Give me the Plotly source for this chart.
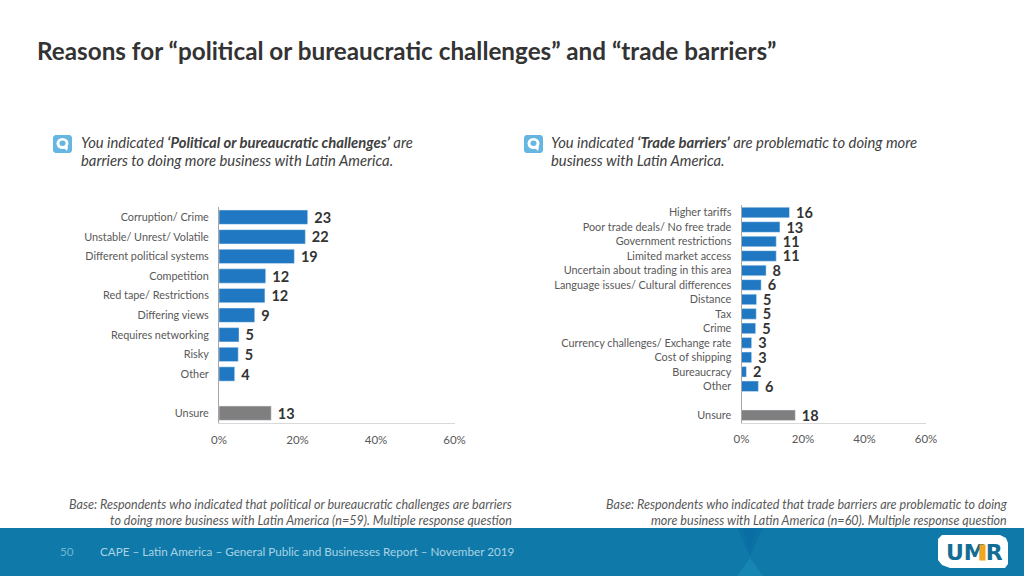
import plotly.graph_objects as go

W, H = 1024, 576

left_labels = ['Corruption/ Crime', 'Unstable/ Unrest/ Volatile', 'Different political systems',
               'Competition', 'Red tape/ Restrictions', 'Differing views', 'Requires networking',
               'Risky', 'Other', ' ', 'Unsure']
left_values = [22.6, 22.0, 19.2, 11.9, 11.7, 9.1, 5.1, 4.9, 4.0, None, 13.3]
left_text = ['23', '22', '19', '12', '12', '9', '5', '5', '4', '', '13']

right_labels = ['Higher tariffs', 'Poor trade deals/ No free trade', 'Government restrictions',
                'Limited market access', 'Uncertain about trading in this area',
                'Language issues/ Cultural differences', 'Distance', 'Tax', 'Crime',
                'Currency challenges/ Exchange rate', 'Cost of shipping', 'Bureaucracy', 'Other',
                ' ', 'Unsure']
right_values = [15.6, 12.5, 11.3, 11.3, 8.0, 6.4, 4.9, 4.8, 4.6, 3.3, 3.3, 1.6, 5.5, None, 17.5]
right_text = ['16', '13', '11', '11', '8', '6', '5', '5', '5', '3', '3', '2', '6', '', '18']

x_ticks = [0, 20, 40, 60]
x_tick_labels = ['0%', '20%', '40%', '60%']

BLUE = '#1f78c1'
GREY = '#7f7f7f'
FONT = 'Lato'


def px(x):
    return x / W


def py(y):
    return 1 - y / H


def bar_colors(labels):
    return [GREY if l == 'Unsure' else BLUE for l in labels]


def add_panel(fig, labels, values, text, xname, yname):
    fig.add_trace(go.Bar(
        x=values,
        y=labels,
        orientation='h',
        xaxis=xname,
        yaxis=yname,
        text=[' ' + t for t in text],
        textposition='outside',
        constraintext='none',
        textfont=dict(family=FONT, size=14.5, color='#333333', weight='bold'),
        cliponaxis=False,
        marker_color=bar_colors(labels),
        hoverinfo='skip',
        showlegend=False))


def axis_x(left, right, anchor):
    return dict(
        domain=[px(left), px(right)],
        anchor=anchor,
        range=[0, 60],
        tickvals=x_ticks,
        ticktext=x_tick_labels,
        showgrid=False,
        zeroline=False,
        showline=True,
        linecolor='#d9d9d9',
        linewidth=1,
        ticks='',
        ticklabelstandoff=6,
        tickfont=dict(family=FONT, size=11.5, color='#595959'))


def axis_y(top, bottom, anchor, labels):
    return dict(
        domain=[py(bottom), py(top)],
        anchor=anchor,
        type='category',
        categoryorder='array',
        categoryarray=labels,
        autorange='reversed',
        showgrid=False,
        zeroline=False,
        showline=True,
        linecolor='#a6a6a6',
        linewidth=1,
        ticks='',
        ticklabelstandoff=7,
        tickfont=dict(family=FONT, size=10.85, color='#595959'))


def note(x, y, text, size, color='#404040', align='left', xanchor='left', family=FONT):
    return dict(
        xref='paper', yref='paper', x=px(x), y=py(y),
        xanchor=xanchor, yanchor='middle', align=align, showarrow=False,
        text=text, font=dict(family=family, size=size, color=color))


def poly(points, color, layer='below', opacity=1):
    path = 'M ' + ' L '.join(f'{px(x)},{py(y)}' for x, y in points) + ' Z'
    return dict(type='path', xref='paper', yref='paper', layer=layer, line_width=0,
                fillcolor=color, opacity=opacity, path=path)


def circle(x0, y0, x1, y1, color):
    return dict(type='circle', xref='paper', yref='paper', x0=px(x0), x1=px(x1), y0=py(y1), y1=py(y0),
                fillcolor=color, line_width=0, layer='above')


def icon_shapes(x):
    # small quote icon beside each question
    return [
        poly([(x + 2, 135), (x + 17, 135), (x + 19, 137), (x + 19, 151), (x + 17, 153), (x + 2, 153),
              (x, 151), (x, 137)], '#66b6e2', 'above'),
        circle(x + 3.5, 138, x + 15.5, 149, 'white'),
        poly([(x + 10, 147), (x + 15, 147), (x + 14, 151)], 'white', 'above'),
        circle(x + 6.5, 140.5, x + 12.5, 146, '#66b6e2'),
    ]


fig = go.Figure()
add_panel(fig, left_labels, left_values, left_text, 'x', 'y')
add_panel(fig, right_labels, right_values, right_text, 'x2', 'y2')

shapes = [
    dict(type='rect', xref='paper', yref='paper', x0=0, x1=1, y0=py(576), y1=py(528),
         fillcolor='#0f7aa9', line_width=0, layer='below'),
    poly([(737, 528), (763, 528), (750, 556)], '#0a6ca3', opacity=0.6),
    poly([(743, 528), (757, 528), (750, 552)], '#0a6ca3', opacity=0.6),
    poly([(750, 558), (737, 576), (763, 576)], '#1a8ab5', opacity=0.7),
    # logo plate
    poly([(942, 535), (1000, 535), (1006, 538), (1008, 543), (1008, 564), (1005, 568), (950, 568),
          (942, 565), (938, 560), (938, 539)], 'white', 'above'),
]
shapes += icon_shapes(53) + icon_shapes(524)

annotations = [
    note(35, 50, '<b>Reasons for “political or bureaucratic challenges” and “trade barriers”</b>', 24.25, '#333333'),
    note(79, 141.5, '<i>You indicated <b>‘Political or bureaucratic challenges’</b> are</i>', 14.8),
    note(79, 159.5, '<i>barriers to doing more business with Latin America.</i>', 14.8),
    note(549, 141.5, '<i>You indicated <b>‘Trade barriers’</b> are problematic to doing more</i>', 14.8),
    note(549, 159.5, '<i>business with Latin America.</i>', 14.8),
    note(514, 512, '<i>Base: Respondents who indicated that political or bureaucratic challenges are barriers<br>'
                   'to doing more business with Latin America (n=59). Multiple response question</i>',
         12.55, '#595959', 'right', 'right'),
    note(1010, 512, '<i>Base: Respondents who indicated that trade barriers are problematic to doing<br>'
                    'more business with Latin America (n=60). Multiple response question</i>',
         12.55, '#595959', 'right', 'right'),
    note(58, 551, '50', 11.7, '#6fb6d3'),
    note(98, 551, 'CAPE – Latin America – General Public and Businesses Report – November 2019', 11.7, '#a9d3e4'),
    note(974, 552, '<b>UMR</b>', 22, '#146d94', 'center', 'center', 'DejaVu Sans'),
]
# orange leg of the M in the logo
annotations.append(dict(xref='paper', yref='paper', x=px(982), y=py(552.5), showarrow=False,
                        xanchor='center', yanchor='middle',
                        text=' ', bgcolor='#f2a51f', width=5, height=15, borderpad=0,
                        font=dict(size=1)))

fig.update_layout(
    width=W,
    height=H,
    margin=dict(l=0, r=0, t=0, b=0, pad=0, autoexpand=False),
    paper_bgcolor='white',
    plot_bgcolor='rgba(0,0,0,0)',
    bargap=0.27,
    font=dict(family=FONT),
    xaxis=axis_x(219, 454.5, 'y'),
    yaxis=axis_y(207.4, 423, 'x', left_labels),
    xaxis2=axis_x(741.5, 926, 'y2'),
    yaxis2=axis_y(205.3, 422.5, 'x2', right_labels),
    shapes=shapes,
    annotations=annotations)

fig.write_html("out.html", config=dict(displayModeBar=False),
               post_script="document.body.style.margin='0';")
